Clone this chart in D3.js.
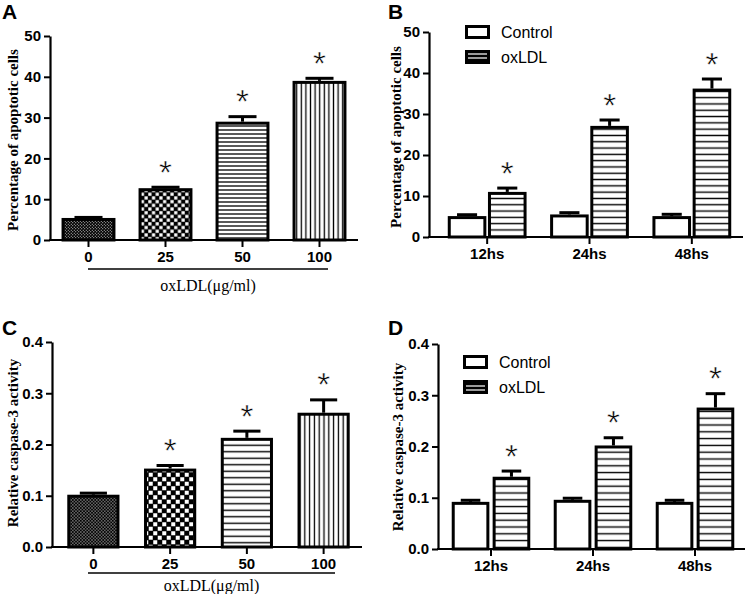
<!DOCTYPE html>
<html><head><meta charset="utf-8">
<script src="https://cdn.jsdelivr.net/npm/d3@7"></script>
<style>
body{margin:0;background:#fff;}
svg{display:block;}
.tick text{font-family:"Liberation Sans",Arial,sans-serif;font-weight:bold;font-size:15px;fill:#000;}
</style></head>
<body>
<svg id="chart" width="750" height="594"></svg>
<script>
// ---------- data ----------
const concLabels = ["0", "25", "50", "100"];
const apoptosisDose = [5.4, 12.7, 29.0, 39.0];
const apoptosisDoseErr = [0.5, 0.6, 1.6, 1.0];
const caspaseDose = [0.102, 0.153, 0.213, 0.262];
const caspaseDoseErr = [0.006, 0.009, 0.016, 0.028];

const timeLabels = ["12hs", "24hs", "48hs"];
const seriesNames = ["Control", "oxLDL"];
const apoptosisControl = [5.1, 5.5, 5.1];
const apoptosisControlErr = [0.7, 0.8, 0.8];
const apoptosisOx = [11.0, 27.1, 36.2];
const apoptosisOxErr = [1.3, 1.8, 2.7];
const caspaseControl = [0.092, 0.096, 0.092];
const caspaseControlErr = [0.006, 0.006, 0.006];
const caspaseOx = [0.141, 0.202, 0.276];
const caspaseOxErr = [0.014, 0.018, 0.030];

const yTicksApoptosis = [0, 10, 20, 30, 40, 50];
const yTicksCaspase = [0, 0.1, 0.2, 0.3, 0.4];
const significant = ["*"];

// ---------- helpers ----------
const svg = d3.select("#chart");
const defs = svg.append("defs");
const SANS = '"Liberation Sans", Arial, sans-serif';
const SERIF = '"Liberation Serif", "Times New Roman", serif';

function checker(id, period, sq) {
  const p = defs.append("pattern").attr("id", id).attr("patternUnits", "userSpaceOnUse")
    .attr("width", period).attr("height", period);
  p.append("rect").attr("width", period).attr("height", period).attr("fill", "#000");
  const h = period / 2;
  const o = (h - sq) / 2;
  p.append("rect").attr("x", o).attr("y", o).attr("width", sq).attr("height", sq).attr("fill", "#fff");
  p.append("rect").attr("x", h + o).attr("y", h + o).attr("width", sq).attr("height", sq).attr("fill", "#fff");
}
function stripes(id, period, lw, vertical, bg, fg) {
  const p = defs.append("pattern").attr("id", id).attr("patternUnits", "userSpaceOnUse")
    .attr("width", period).attr("height", period);
  p.append("rect").attr("width", period).attr("height", period).attr("fill", bg || "#fff");
  if (vertical) p.append("rect").attr("x", (period - lw) / 2).attr("y", 0).attr("width", lw).attr("height", period).attr("fill", fg || "#000");
  else p.append("rect").attr("x", 0).attr("y", (period - lw) / 2).attr("width", period).attr("height", lw).attr("fill", fg || "#000");
}
checker("fineA", 3, 0.9);
checker("coarseA", 7.4, 3.2);
stripes("hA", 4, 1.3, false);
stripes("vA", 4.6, 1.3, true);
checker("fineC", 3.2, 1.0);
checker("coarseC", 9, 4);
stripes("hC", 6.5, 1.4, false);
stripes("vC", 4.8, 1.3, true);
stripes("hB", 6.3, 1.4, false);
stripes("hD", 6.8, 1.4, false);
stripes("legOx", 4, 1.2, false, "#000", "#fff");

function yAxisLabel(x, y, text) {
  svg.append("text").attr("transform", `translate(${x},${y}) rotate(-90)`)
    .attr("text-anchor", "middle").attr("dominant-baseline", "central")
    .style("font-family", SERIF).style("font-weight", "bold").style("font-size", "15px")
    .text(text);
}
function panelLetter(x, y, t) {
  svg.append("text").attr("x", x).attr("y", y)
    .style("font-family", SANS).style("font-weight", "bold").style("font-size", "21px").text(t);
}
function drawYAxis(yScale, axisX, ticks, fmt) {
  const g = svg.append("g").attr("transform", `translate(${axisX},0)`)
    .call(d3.axisLeft(yScale).tickValues(ticks).tickFormat(fmt).tickSize(6).tickSizeOuter(0).tickPadding(3));
  g.select(".domain").attr("stroke", "#000").attr("stroke-width", 2.2);
  g.selectAll(".tick line").attr("stroke", "#000").attr("stroke-width", 2);
}
function drawXAxis(xScale, axisX, xRight, y0) {
  const g = svg.append("g").attr("transform", `translate(0,${y0})`)
    .call(d3.axisBottom(xScale).tickSize(7).tickSizeOuter(0).tickPadding(4));
  g.select(".domain").remove();
  g.selectAll(".tick line").attr("stroke", "#000").attr("stroke-width", 2);
  svg.append("line").attr("x1", axisX - 1).attr("x2", xRight).attr("y1", y0).attr("y2", y0)
    .attr("stroke", "#000").attr("stroke-width", 2.2);
}
function bar(g, x, w, yScale, v, err, fill, star) {
  const sw = 3;
  const yTop = yScale(v), yBase = yScale(0);
  const cx = x + w / 2;
  const capW = w * 0.52;
  const yErr = yScale(v + err);
  g.append("line").attr("x1", cx).attr("x2", cx).attr("y1", yTop).attr("y2", yErr + 1)
    .attr("stroke", "#000").attr("stroke-width", 3);
  g.append("line").attr("x1", cx - capW / 2).attr("x2", cx + capW / 2).attr("y1", yErr + 1.5).attr("y2", yErr + 1.5)
    .attr("stroke", "#000").attr("stroke-width", 3);
  g.append("rect").attr("x", x + sw / 2).attr("y", yTop + sw / 2)
    .attr("width", w - sw).attr("height", Math.max(0, yBase - yTop - sw / 2))
    .attr("fill", fill).attr("stroke", "#000").attr("stroke-width", sw);
  if (star) {
    g.append("text").attr("x", cx).attr("y", yErr - 20 + 18)
      .attr("text-anchor", "middle")
      .style("font-family", SANS).style("font-size", "33px").style("font-weight", "normal")
      .style("fill", "#000").style("stroke", "#fff").style("stroke-width", "0.45px")
      .text(star);
  }
}
function xUnderline(x1, x2, y, textY, text) {
  svg.append("line").attr("x1", x1).attr("x2", x2).attr("y1", y).attr("y2", y)
    .attr("stroke", "#000").attr("stroke-width", 1.6);
  svg.append("text").attr("x", (x1 + x2) / 2).attr("y", textY).attr("text-anchor", "middle")
    .style("font-family", SERIF).style("font-size", "16px").text(text);
}
function legend(x, y1, y2, textX, fills) {
  [y1, y2].forEach((yy, i) => {
    svg.append("rect").attr("x", x + 1.5).attr("y", yy + 1.5).attr("width", 22).attr("height", 11)
      .attr("fill", fills[i]).attr("stroke", "#000").attr("stroke-width", 3);
    svg.append("text").attr("x", textX).attr("y", yy + 13)
      .style("font-family", SANS).style("font-size", "16px").text(seriesNames[i]);
  });
}

// ---------- Panel A ----------
(function () {
  const axisX = 50, xRight = 358;
  const y = d3.scaleLinear().domain([0, 50]).range([240, 36]);
  const x = d3.scaleBand().domain(concLabels).range([50, 358]).paddingInner(0.3).paddingOuter(0.15);
  const fills = ["url(#fineA)", "url(#coarseA)", "url(#hA)", "url(#vA)"];
  const g = svg.append("g");
  concLabels.forEach((c, i) => bar(g, x(c), x.bandwidth(), y, apoptosisDose[i], apoptosisDoseErr[i], fills[i], i > 0 ? significant[0] : null));
  drawYAxis(y, axisX, yTicksApoptosis, d3.format("d"));
  drawXAxis(x, axisX, xRight, 240);
  xUnderline(88, 328, 269, 291, "oxLDL(μg/ml)");
  yAxisLabel(13, 140, "Percentage of apoptotic cells");
  panelLetter(2, 19, "A");
})();

// ---------- Panel B ----------
(function () {
  const axisX = 429, xRight = 743;
  const y = d3.scaleLinear().domain([0, 50]).range([237, 32]);
  const x0 = d3.scaleBand().domain(timeLabels).range([436, 743]).paddingInner(0.23).paddingOuter(0.115);
  const x1 = d3.scaleBand().domain(seriesNames).range([0, x0.bandwidth()]).paddingInner(0.04);
  const fills = ["#fff", "url(#hB)"];
  const vals = [apoptosisControl, apoptosisOx], errs = [apoptosisControlErr, apoptosisOxErr];
  const g = svg.append("g");
  timeLabels.forEach((t, i) => seriesNames.forEach((s, j) =>
    bar(g, x0(t) + x1(s), x1.bandwidth(), y, vals[j][i], errs[j][i], fills[j], j === 1 ? significant[0] : null)));
  drawYAxis(y, axisX, yTicksApoptosis, d3.format("d"));
  drawXAxis(x0, axisX, xRight, 237);
  legend(465, 25, 50, 501, ["#fff", "url(#legOx)"]);
  yAxisLabel(396, 137, "Percentage of apoptotic cells");
  panelLetter(388, 19, "B");
})();

// ---------- Panel C ----------
(function () {
  const axisX = 52, xRight = 362;
  const y = d3.scaleLinear().domain([0, 0.4]).range([547, 342]);
  const x = d3.scaleBand().domain(concLabels).range([55, 362]).paddingInner(0.32).paddingOuter(0.16);
  const fills = ["url(#fineC)", "url(#coarseC)", "url(#hC)", "url(#vC)"];
  const g = svg.append("g");
  concLabels.forEach((c, i) => bar(g, x(c), x.bandwidth(), y, caspaseDose[i], caspaseDoseErr[i], fills[i], i > 0 ? significant[0] : null));
  drawYAxis(y, axisX, yTicksCaspase, d3.format(".1f"));
  drawXAxis(x, axisX, xRight, 547);
  xUnderline(88, 335, 573, 591, "oxLDL(μg/ml)");
  yAxisLabel(13, 443, "Relative caspase-3 activity");
  panelLetter(2, 335, "C");
})();

// ---------- Panel D ----------
(function () {
  const axisX = 438, xRight = 745;
  const y = d3.scaleLinear().domain([0, 0.4]).range([549, 344]);
  const x0 = d3.scaleBand().domain(timeLabels).range([440, 746]).paddingInner(0.23).paddingOuter(0.115);
  const x1 = d3.scaleBand().domain(seriesNames).range([0, x0.bandwidth()]).paddingInner(0.08);
  const fills = ["#fff", "url(#hD)"];
  const vals = [caspaseControl, caspaseOx], errs = [caspaseControlErr, caspaseOxErr];
  const g = svg.append("g");
  timeLabels.forEach((t, i) => seriesNames.forEach((s, j) =>
    bar(g, x0(t) + x1(s), x1.bandwidth(), y, vals[j][i], errs[j][i], fills[j], j === 1 ? significant[0] : null)));
  drawYAxis(y, axisX, yTicksCaspase, d3.format(".1f"));
  drawXAxis(x0, axisX, xRight, 549);
  legend(463, 355, 380, 499, ["#fff", "url(#legOx)"]);
  yAxisLabel(398, 447, "Relative caspase-3 activity");
  panelLetter(388, 335, "D");
})();
</script>
</body></html>
